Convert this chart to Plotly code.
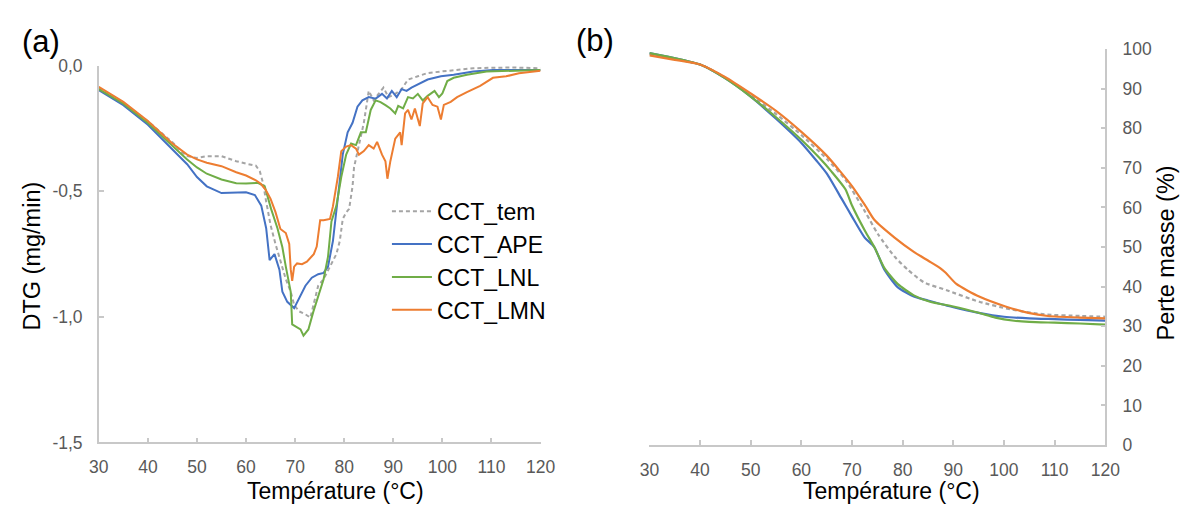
import plotly.graph_objects as go

# ---------------- DATA ----------------
names = ["CCT_tem", "CCT_APE", "CCT_LNL", "CCT_LMN"]
colors = ["#A5A5A5", "#4472C4", "#70AD47", "#ED7D31"]

# (a) DTG (mg/min) vs temperature
dtg_tem_T = [30, 35, 40, 45, 47, 48, 50, 52, 55, 58, 60, 62, 62.8, 63.5, 64, 65, 66, 67, 68.1, 69.1, 69.8, 70.8,
             72.1, 73.1, 73.7, 74.7, 75.8, 77.1, 78.4, 79.1, 79.7, 80.4, 81.0, 81.7, 82.0, 83.0, 84.0, 85.0, 86.0,
             87.0, 88.0, 89.0, 90.4, 91.7, 93.0, 95.0, 97.0, 99.7, 102.3, 106.3, 110.3, 114.3, 120]
dtg_tem_V = [-0.087, -0.15, -0.221, -0.305, -0.345, -0.36, -0.367, -0.36, -0.36, -0.38, -0.39, -0.398, -0.42, -0.47,
             -0.53, -0.635, -0.71, -0.774, -0.85, -0.90, -0.952, -0.978, -0.99, -1.003, -0.952, -0.876, -0.85, -0.80,
             -0.75, -0.698, -0.61, -0.584, -0.57, -0.48, -0.405, -0.316, -0.227, -0.10, -0.138, -0.112, -0.087,
             -0.125, -0.112, -0.093, -0.055, -0.042, -0.029, -0.023, -0.017, -0.01, -0.008, -0.007, -0.01]

dtg_ape_T = [30, 35, 40, 45, 48, 50, 52, 55, 58, 60, 61.8, 63.1, 64.1, 64.8, 65.8, 66.8, 67.4, 68.4, 69.8, 70.8,
             72.1, 73.4, 74.7, 75.8, 76.7, 77.7, 78.7, 79.7, 80.7, 81.7, 82.7, 83.7, 85.0, 86.4, 87.7, 88.7, 89.7,
             90.7, 91.7, 92.7, 93.7, 95.0, 97.0, 99.7, 102.3, 106.3, 110.3, 115.6, 120]
dtg_ape_V = [-0.097, -0.157, -0.235, -0.335, -0.392, -0.443, -0.48, -0.507, -0.507, -0.504, -0.515, -0.557, -0.647,
             -0.774, -0.75, -0.812, -0.90, -0.94, -0.965, -0.927, -0.876, -0.844, -0.83, -0.825, -0.80, -0.698,
             -0.52, -0.354, -0.265, -0.227, -0.163, -0.138, -0.125, -0.131, -0.112, -0.13, -0.10, -0.125, -0.093,
             -0.10, -0.087, -0.074, -0.055, -0.042, -0.036, -0.023, -0.017, -0.017, -0.017]

dtg_lnl_T = [30, 35, 40, 45, 48, 50, 52, 55, 58, 60, 62.4, 63.8, 65.1, 66.4, 67.4, 68.1, 69.1, 69.4, 70.4, 71.1,
             71.7, 72.7, 73.7, 74.7, 75.8, 76.7, 77.4, 78.4, 79.4, 80.4, 81.4, 82.4, 83.4, 84.4, 85.4, 86.4, 87.4,
             88.4, 89.4, 90.4, 91.0, 92.0, 93.0, 94.0, 95.0, 96.0, 97.0, 98.4, 99.3, 100.0, 101.0, 102.3, 105.0,
             109.0, 114.3, 120]
dtg_lnl_V = [-0.093, -0.151, -0.228, -0.32, -0.373, -0.405, -0.43, -0.453, -0.468, -0.469, -0.466, -0.48, -0.57,
             -0.647, -0.723, -0.80, -0.90, -1.03, -1.04, -1.05, -1.075, -1.05, -0.98, -0.914, -0.85, -0.76, -0.62,
             -0.558, -0.443, -0.354, -0.31, -0.316, -0.265, -0.265, -0.176, -0.138, -0.145, -0.157, -0.17, -0.19,
             -0.16, -0.17, -0.125, -0.13, -0.112, -0.138, -0.12, -0.10, -0.125, -0.11, -0.061, -0.048, -0.036,
             -0.023, -0.02, -0.017]

dtg_lmn_T = [30, 35, 40, 45, 48, 50, 52, 55, 58, 60, 62, 63, 64, 65, 66, 67, 68.1, 68.8, 69.1, 69.4, 69.8, 70.4,
             71.4, 72.4, 73.8, 74.4, 75.1, 75.8, 77.1, 77.7, 78.7, 79.4, 80.4, 81.4, 82.4, 83.0, 84.0, 85.0, 86.0,
             86.7, 87.7, 88.4, 88.8, 89.4, 90.4, 91.4, 91.7, 92.4, 93.0, 93.7, 94.4, 95.4, 96.0, 97.0, 98.0, 99.0,
             99.7, 100.3, 101.7, 103.0, 105.0, 107.7, 110.3, 113.0, 115.6, 120]
dtg_lmn_V = [-0.084, -0.144, -0.22, -0.31, -0.354, -0.373, -0.386, -0.40, -0.424, -0.437, -0.456, -0.47, -0.494,
             -0.53, -0.583, -0.65, -0.666, -0.71, -0.81, -0.857, -0.80, -0.787, -0.79, -0.78, -0.75, -0.72, -0.615,
             -0.615, -0.61, -0.56, -0.443, -0.34, -0.322, -0.316, -0.33, -0.354, -0.34, -0.316, -0.33, -0.303,
             -0.354, -0.38, -0.45, -0.38, -0.29, -0.265, -0.316, -0.19, -0.176, -0.214, -0.17, -0.24, -0.15, -0.125,
             -0.156, -0.163, -0.214, -0.156, -0.144, -0.125, -0.105, -0.08, -0.048, -0.042, -0.03, -0.02]

# (b) Perte masse (%) vs temperature
tg_tem_T = [30, 40, 45, 50, 55, 60, 65, 68.7, 72.6, 75.1, 78.4, 81, 84.2, 88.7, 95.1, 101.6, 108, 115, 120]
tg_tem_V = [98.7, 96.1, 92.8, 88.4, 83.6, 78.3, 72.3, 67, 58.9, 53.3, 47.6, 44.3, 41.1, 39.1, 36.2, 34.2, 33.0, 32.6, 32.4]

tg_ape_T = [30, 40, 45, 50, 55, 60, 63, 65, 68, 70, 72.5, 74.4, 76.4, 79, 82.2, 85, 90, 95, 100, 105, 110, 115, 120]
tg_ape_V = [99.0, 96.1, 92.6, 88.0, 82.4, 76.3, 71.8, 68.6, 62.1, 57.7, 52.4, 50.0, 44.3, 39.9, 37.5, 36.5, 34.8,
            33.4, 32.4, 32.0, 31.8, 31.6, 31.4]

tg_lnl_T = [30, 40, 45, 50, 55, 60, 63.5, 66, 68.7, 70, 72.6, 74.4, 76.4, 79, 82.2, 85.4, 90, 95, 98.3, 102, 105,
            110, 115, 120]
tg_lnl_V = [99.0, 96.1, 92.6, 88.0, 82.8, 77.1, 72.6, 69.0, 64.6, 60.5, 54, 50, 44.7, 40.7, 37.8, 36.2, 35.0, 33.4,
            32.2, 31.4, 31.1, 30.9, 30.7, 30.4]

tg_lmn_T = [30, 35, 40, 45, 50, 55, 60, 65, 70, 72.6, 74.4, 78.4, 82.2, 85, 87.4, 88.5, 90.6, 95.1, 100.3, 104.8,
            108.7, 115, 120]
tg_lmn_V = [98.4, 97.3, 96.1, 92.9, 88.8, 84.4, 79.1, 73.1, 65.4, 60.5, 56.9, 52.4, 48.8, 46.6, 44.7, 43.5, 40.7,
            37.5, 35.0, 33.4, 32.6, 32.2, 32.0]

x_ticks = [30, 40, 50, 60, 70, 80, 90, 100, 110, 120]
dtg_ticks = [0, -0.5, -1.0, -1.5]
dtg_ticktext = ["0,0", "-0,5", "-1,0", "-1,5"]
tg_ticks = [0, 10, 20, 30, 40, 50, 60, 70, 80, 90, 100]

# ---------------- FIGURE ----------------
W, H = 1193, 513
FONT = "Liberation Sans, Arial, sans-serif"
AXC = "#C8C8C8"
TICKC = "#595959"

fig = go.Figure()

dtg_series = [(dtg_tem_T, dtg_tem_V), (dtg_ape_T, dtg_ape_V), (dtg_lnl_T, dtg_lnl_V), (dtg_lmn_T, dtg_lmn_V)]
tg_series = [(tg_tem_T, tg_tem_V), (tg_ape_T, tg_ape_V), (tg_lnl_T, tg_lnl_V), (tg_lmn_T, tg_lmn_V)]

for i, (name, col) in enumerate(zip(names, colors)):
    dash = "4px,3px" if i == 0 else "solid"
    t, v = dtg_series[i]
    fig.add_trace(go.Scatter(x=t, y=v, mode="lines", name=name, legendgroup=name,
                             line=dict(color=col, width=2, dash=dash), xaxis="x", yaxis="y"))
for i, (name, col) in enumerate(zip(names, colors)):
    dash = "4px,3px" if i == 0 else "solid"
    t, v = tg_series[i]
    fig.add_trace(go.Scatter(x=t, y=v, mode="lines", name=name, legendgroup=name, showlegend=False,
                             line=dict(color=col, width=2.2, dash=dash, shape="spline", smoothing=0.6),
                             xaxis="x2", yaxis="y2"))

def px_x(p):
    return p / W

def px_y(p):
    return 1 - p / H

axis_common = dict(showgrid=False, zeroline=False, showline=True, linecolor=AXC, linewidth=1.5,
                   ticks="inside", ticklen=5, tickcolor=AXC, tickwidth=1.5,
                   tickfont=dict(family=FONT, size=17.5, color=TICKC))

fig.update_layout(
    width=W, height=H,
    margin=dict(l=0, r=0, t=0, b=0),
    paper_bgcolor="white", plot_bgcolor="white",
    font=dict(family=FONT, color="black"),
    xaxis=dict(domain=[px_x(90.7), px_x(541.9)], range=[30, 120], tickvals=x_ticks, anchor="y",
               ticklabelstandoff=8, **axis_common),
    yaxis=dict(domain=[px_y(450), px_y(58)], range=[-1.5, 0], tickvals=dtg_ticks, ticktext=dtg_ticktext,
               anchor="x", ticklabelstandoff=11, **axis_common),
    xaxis2=dict(domain=[px_x(653.1), px_x(1118.7)], range=[30, 120], tickvals=x_ticks, anchor="y2",
                ticklabelstandoff=8, **axis_common),
    yaxis2=dict(domain=[px_y(452.7), px_y(40.7)], range=[0, 100], tickvals=tg_ticks, anchor="x2",
                side="right", ticklabelstandoff=12, **axis_common),
    showlegend=True,
    legend=dict(x=px_x(385), y=px_y(187), xanchor="left", yanchor="top",
                font=dict(family=FONT, size=23, color="black"), bgcolor="rgba(0,0,0,0)",
                tracegroupgap=3, traceorder="normal", itemwidth=40),
)

ann = [
    dict(text="(a)", x=px_x(32), y=px_y(33), font=dict(size=31)),
    dict(text="(b)", x=px_x(598), y=px_y(32), font=dict(size=31)),
    dict(text="Température (°C)", x=px_x(332), y=px_y(500), font=dict(size=23)),
    dict(text="Température (°C)", x=px_x(900), y=px_y(500), font=dict(size=23)),
    dict(text="DTG (mg/min)", x=px_x(23), y=px_y(256), font=dict(size=23.5), textangle=-90),
    dict(text="Perte masse (%)", x=px_x(1181), y=px_y(253), font=dict(size=23.5), textangle=-90),
]
for a in ann:
    a.update(xref="paper", yref="paper", showarrow=False, xanchor="center", yanchor="middle")
    a["font"].update(family=FONT, color="black")
    fig.add_annotation(**a)

post = (
    "var s=document.createElement('style');"
    "s.innerHTML='html,body{margin:0!important;padding:0!important;overflow:hidden!important;}';"
    "document.head.appendChild(s);"
    "var d=document.getElementById('{plot_id}');"
    "d.style.position='absolute';d.style.left='0px';d.style.top='0px';"
)
fig.write_html("out.html", config={"displayModeBar": False}, post_script=post)
